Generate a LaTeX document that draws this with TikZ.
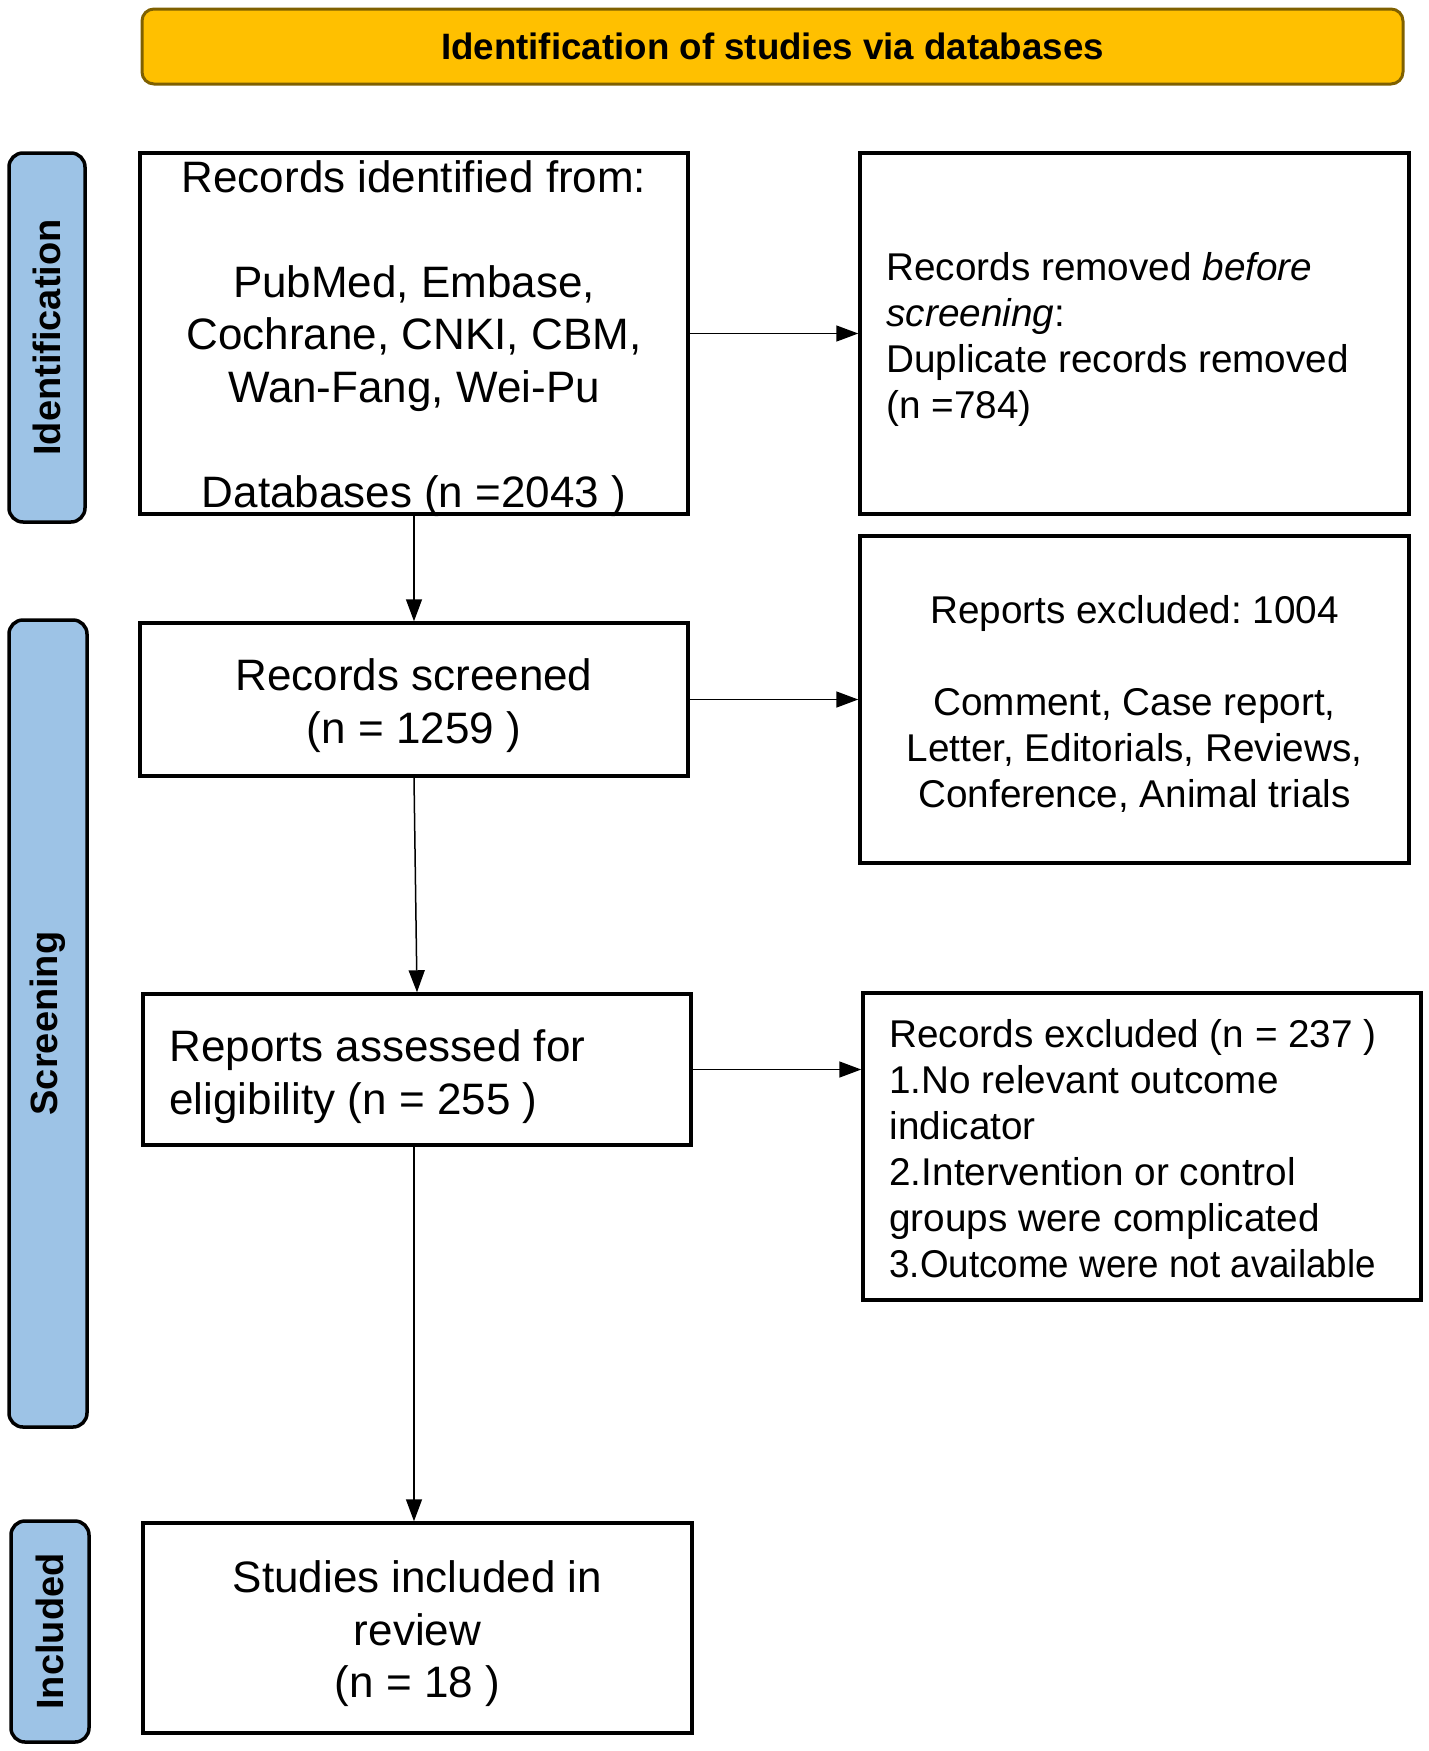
\documentclass[tikz,border=0pt]{standalone}
\usepackage{fontspec}
\usepackage{graphicx}
\setmainfont{Liberation Sans}
\usetikzlibrary{arrows.meta,calc}
\definecolor{hdrfill}{HTML}{FFC000}
\definecolor{hdrline}{HTML}{7F6000}
\definecolor{sidefill}{HTML}{9DC3E6}
\frenchspacing
\begin{document}
\begin{tikzpicture}[x=1pt,y=-1pt,
  frame/.style={draw=black,line width=3.5pt,fill=white,inner sep=0pt},
  bigtext/.style={inner sep=0pt,font=\fontsize{44}{52.5}\selectfont},
  smalltext/.style={inner sep=0pt,font=\fontsize{38.7}{46}\selectfont},
  sidebar/.style={draw=black,line width=3.5pt,fill=sidefill,rounded corners=14pt,rotate=90,
    inner sep=0pt,font=\bfseries\fontsize{38}{44}\selectfont},
  arr/.style={-{Triangle[length=22pt,width=16pt]},line width=1.5pt,draw=black}]
\useasboundingbox (0,0) rectangle (1429,1751);

% header
\node[draw=hdrline,fill=hdrfill,line width=3pt,rounded corners=12pt,
  minimum width=1261pt,minimum height=75pt,inner sep=0pt,
  font=\bfseries\fontsize{36.7}{44}\selectfont] (hdr) at (772.5,46.5)
  {Identification of studies via databases};

% side bars
\node[sidebar,minimum width=369pt,minimum height=76pt] (sbid) at (47,337.5) {Identification};
\node[sidebar,minimum width=807pt,minimum height=78pt] (sbscr) at (48,1023.5) {Screening};
\node[sidebar,minimum width=221pt,minimum height=78pt] (sbinc) at (50,1631.5) {Included};

% left column frames
\node[frame,minimum width=548pt,minimum height=361pt] (ident) at (414,333.5) {};
\node[frame,minimum width=548pt,minimum height=153pt] (screened) at (414,699.5) {};
\node[frame,minimum width=548pt,minimum height=151pt] (assessed) at (417,1069.5) {};
\node[frame,minimum width=549pt,minimum height=210pt] (included) at (417.5,1628) {};

% right column frames
\node[frame,minimum width=549pt,minimum height=361pt] (removed) at (1134.5,333.5) {};
\node[frame,minimum width=549pt,minimum height=327pt] (repex) at (1134.5,699.5) {};
\node[frame,minimum width=558pt,minimum height=307pt] (recex) at (1142,1146.5) {};

% texts
\node[bigtext,align=center] (identt) at ($(ident.center)+(0,5)$)
  {Records identified from:\\[52.5pt]PubMed, Embase,\\Cochrane, CNKI, CBM,\\Wan-Fang, Wei-Pu\\[52.5pt]Databases (n =2043 )};
\node[bigtext,align=center] (screenedt) at ($(screened.center)+(0,6)$)
  {Records screened\\(n = 1259 )};
\node[bigtext,align=left,anchor=west] (assessedt) at ($(assessed.west)+(28,7)$)
  {Reports assessed for\\eligibility (n = 255 )};
\node[bigtext,align=center] (includedt) at ($(included.center)+(0,6)$)
  {Studies included in\\review\\(n = 18 )};
\node[smalltext,align=left,anchor=west] (removedt) at ($(removed.west)+(28,6)$)
  {Records removed \textit{before}\\\textit{screening}:\\Duplicate records removed\\(n =784)};
\node[smalltext,align=center] (repext) at ($(repex.center)+(0,4)$)
  {Reports excluded: 1004\\[46pt]Comment, Case report,\\Letter, Editorials, Reviews,\\Conference, Animal trials};
\node[smalltext,align=left,anchor=west] (recext) at ($(recex.west)+(28,2)$)
  {Records excluded (n = 237 )\\1.No relevant outcome\\indicator\\2.Intervention or control\\groups were complicated\\\scalebox{0.95}[1]{3.Outcome were not available}};

% connectors
\draw[arr] (ident.east) -- (removed.west);
\draw[arr] (ident.south) -- (screened.north);
\draw[arr] (screened.east) -- (repex.west);
\draw[arr] (screened.south) -- (assessed.north);
\draw[arr] (assessed.east) -- (assessed.east -| recex.west);
\draw[arr] (assessed.south -| ident.south) -- (included.north -| ident.south);
\end{tikzpicture}
\end{document}
